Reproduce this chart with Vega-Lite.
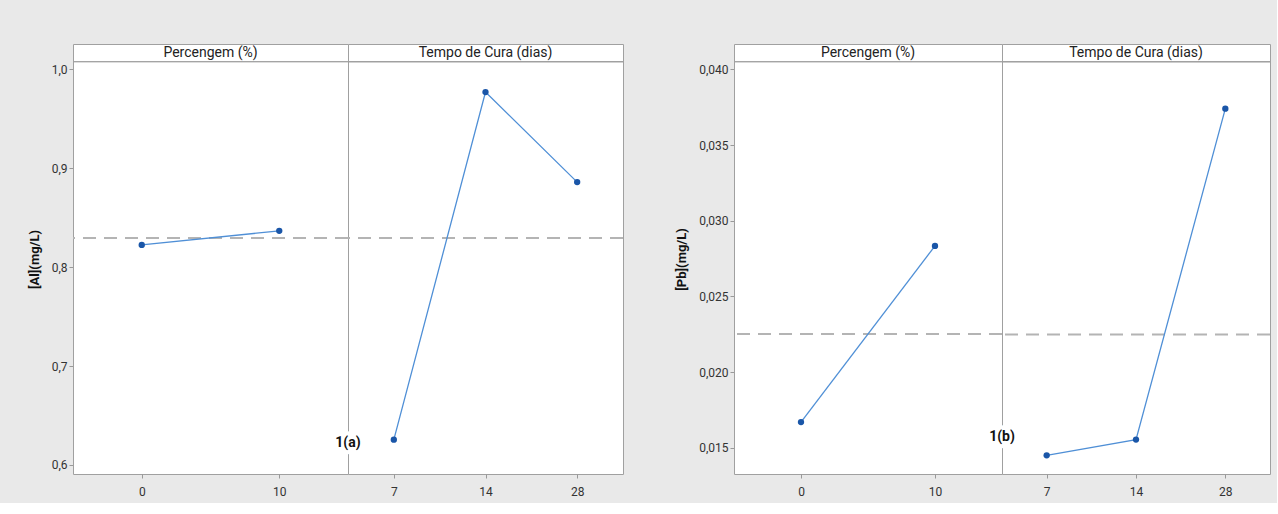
{
  "$schema": "https://vega.github.io/schema/vega-lite/v6.json",
  "background": "#e9e9e9",
  "padding": {"left": 28, "top": 43, "right": 5, "bottom": 5},
  "datasets": {
    "al": [
      {"factor": "Percengem (%)", "level": "0", "value": 0.8225, "note": ""},
      {"factor": "Percengem (%)", "level": "10", "value": 0.8367, "note": ""},
      {"factor": "Tempo de Cura (dias)", "level": "7", "value": 0.6256, "note": "1(a)"},
      {"factor": "Tempo de Cura (dias)", "level": "14", "value": 0.977, "note": ""},
      {"factor": "Tempo de Cura (dias)", "level": "28", "value": 0.886, "note": ""}
    ],
    "pb": [
      {"factor": "Percengem (%)", "level": "0", "value": 0.01671, "note": ""},
      {"factor": "Percengem (%)", "level": "10", "value": 0.02834, "note": ""},
      {"factor": "Tempo de Cura (dias)", "level": "7", "value": 0.01451, "note": "1(b)"},
      {"factor": "Tempo de Cura (dias)", "level": "14", "value": 0.01555, "note": ""},
      {"factor": "Tempo de Cura (dias)", "level": "28", "value": 0.0374, "note": ""}
    ]
  },
  "config": {
    "font": "Roboto",
    "view": {"stroke": "#a0a0a0", "fill": "white"},
    "axis": {"grid": false, "domain": false, "tickColor": "#999999", "tickSize": 4, "labelFontSize": 12, "labelColor": "#333333", "labelFont": "Roboto", "titleFont": "Roboto", "titleFontSize": 13, "titleFontWeight": "bold", "titleColor": "#111111"},
    "header": {"labels": false, "title": null}
  },
  "hconcat": [
    {
      "data": {"name": "al"},
      "facet": {"column": {"field": "factor", "type": "nominal", "sort": ["Percengem (%)", "Tempo de Cura (dias)"], "title": null, "header": {"labels": false}}},
      "spacing": 0,
      "bounds": "flush",
      "resolve": {"scale": {"x": "independent"}},
      "spec": {
        "width": 275,
        "height": 430,
        "layer": [
          {
            "mark": {"type": "rule", "color": "#b4b4b4", "strokeDash": [13, 8], "strokeWidth": 2},
            "encoding": {"y": {"aggregate": "mean", "field": "value", "type": "quantitative", "title": "[Al](mg/L)", "scale": {"domain": [0.5909, 1.0256], "nice": false, "zero": false}}}
          },
          {
            "mark": {"type": "rule", "color": "#a0a0a0", "strokeWidth": 1},
            "encoding": {"y": {"datum": 1.0077, "type": "quantitative"}}
          },
          {
            "transform": [{"aggregate": [{"op": "count", "as": "n"}], "groupby": ["factor"]}],
            "mark": {"type": "text", "fontSize": 14, "color": "#222222", "align": "center", "baseline": "middle"},
            "encoding": {
              "y": {"datum": 1.0167, "type": "quantitative"},
              "text": {"field": "factor"}
            }
          },
          {
            "mark": {"type": "line", "color": "#4f8fd6", "strokeWidth": 1.3},
            "encoding": {
              "x": {"field": "level", "type": "ordinal", "sort": ["0", "10", "7", "14", "28"], "title": null, "scale": {"type": "point", "padding": 0.5}, "axis": {"labelAngle": 0, "labelPadding": 8}},
              "y": {"field": "value", "type": "quantitative", "title": "[Al](mg/L)", "axis": {"values": [0.6, 0.7, 0.8, 0.9, 1.0], "labelExpr": "replace(format(datum.value, '.1f'), '.', ',')", "titlePadding": 10}}
            }
          },
          {
            "mark": {"type": "point", "filled": true, "color": "#1a56a8", "size": 40, "opacity": 1},
            "encoding": {
              "x": {"field": "level", "type": "ordinal", "sort": ["0", "10", "7", "14", "28"]},
              "y": {"field": "value", "type": "quantitative", "title": "[Al](mg/L)"}
            }
          },
          {
            "transform": [{"filter": "datum.note != ''"}],
            "mark": {"type": "text", "fontSize": 14, "fontWeight": "bold", "color": "white", "align": "center", "baseline": "middle", "stroke": "white", "strokeWidth": 6},
            "encoding": {
              "x": {"value": 0},
              "y": {"datum": 0.6225, "type": "quantitative"},
              "text": {"field": "note"}
            }
          },
          {
            "transform": [{"filter": "datum.note != ''"}],
            "mark": {"type": "text", "fontSize": 14, "fontWeight": "bold", "color": "#111111", "align": "center", "baseline": "middle"},
            "encoding": {
              "x": {"value": 0},
              "y": {"datum": 0.6225, "type": "quantitative"},
              "text": {"field": "note"}
            }
          }
        ]
      }
    },
    {
      "data": {"name": "pb"},
      "facet": {"column": {"field": "factor", "type": "nominal", "sort": ["Percengem (%)", "Tempo de Cura (dias)"], "title": null, "header": {"labels": false}}},
      "spacing": 0,
      "bounds": "flush",
      "resolve": {"scale": {"x": "independent"}},
      "spec": {
        "width": 268,
        "height": 430,
        "layer": [
          {
            "mark": {"type": "rule", "color": "#b4b4b4", "strokeDash": [13, 8], "strokeWidth": 2},
            "encoding": {"y": {"aggregate": "mean", "field": "value", "type": "quantitative", "title": "[Pb](mg/L)", "scale": {"domain": [0.01328, 0.04167], "nice": false, "zero": false}}}
          },
          {
            "mark": {"type": "rule", "color": "#a0a0a0", "strokeWidth": 1},
            "encoding": {"y": {"datum": 0.0405, "type": "quantitative"}}
          },
          {
            "transform": [{"aggregate": [{"op": "count", "as": "n"}], "groupby": ["factor"]}],
            "mark": {"type": "text", "fontSize": 14, "color": "#222222", "align": "center", "baseline": "middle"},
            "encoding": {
              "y": {"datum": 0.04108, "type": "quantitative"},
              "text": {"field": "factor"}
            }
          },
          {
            "mark": {"type": "line", "color": "#4f8fd6", "strokeWidth": 1.3},
            "encoding": {
              "x": {"field": "level", "type": "ordinal", "sort": ["0", "10", "7", "14", "28"], "title": null, "scale": {"type": "point", "padding": 0.5}, "axis": {"labelAngle": 0, "labelPadding": 8}},
              "y": {"field": "value", "type": "quantitative", "title": "[Pb](mg/L)", "axis": {"values": [0.015, 0.02, 0.025, 0.03, 0.035, 0.04], "labelExpr": "replace(format(datum.value, '.3f'), '.', ',')", "titlePadding": 10}}
            }
          },
          {
            "mark": {"type": "point", "filled": true, "color": "#1a56a8", "size": 40, "opacity": 1},
            "encoding": {
              "x": {"field": "level", "type": "ordinal", "sort": ["0", "10", "7", "14", "28"]},
              "y": {"field": "value", "type": "quantitative", "title": "[Pb](mg/L)"}
            }
          },
          {
            "transform": [{"filter": "datum.note != ''"}],
            "mark": {"type": "text", "fontSize": 14, "fontWeight": "bold", "color": "white", "align": "center", "baseline": "middle", "stroke": "white", "strokeWidth": 6},
            "encoding": {
              "x": {"value": 0},
              "y": {"datum": 0.01574, "type": "quantitative"},
              "text": {"field": "note"}
            }
          },
          {
            "transform": [{"filter": "datum.note != ''"}],
            "mark": {"type": "text", "fontSize": 14, "fontWeight": "bold", "color": "#111111", "align": "center", "baseline": "middle"},
            "encoding": {
              "x": {"value": 0},
              "y": {"datum": 0.01574, "type": "quantitative"},
              "text": {"field": "note"}
            }
          }
        ]
      }
    }
  ],
  "spacing": 50
}
